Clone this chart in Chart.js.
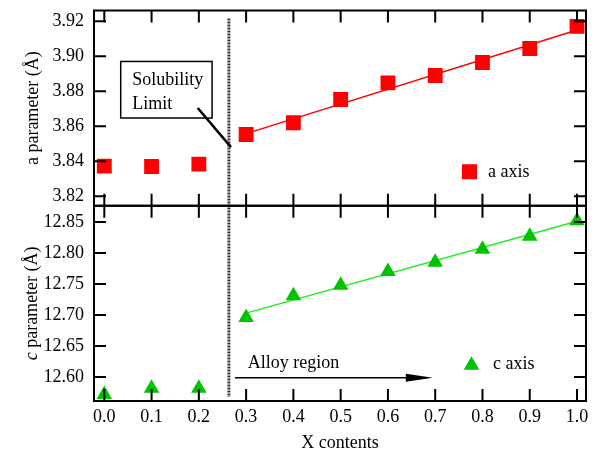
<!DOCTYPE html>
<html>
<head>
<meta charset="utf-8">
<script src="https://cdn.jsdelivr.net/npm/chart.js@4/dist/chart.umd.min.js"></script>
<style>
  html, body { margin: 0; padding: 0; background: #fff; }
  #wrap { width: 598px; height: 455px; }
</style>
</head>
<body>
<div id="wrap"><canvas id="latticeChart" width="598" height="455"></canvas></div>
<script>
// X content of each sample
const xContents = [0.0, 0.1, 0.2, 0.3, 0.4, 0.5, 0.6, 0.7, 0.8, 0.9, 1.0];
// lattice parameters (Å)
const aParam = [3.8372, 3.8370, 3.8384, 3.8553, 3.8620, 3.8753, 3.8848, 3.8890, 3.8964, 3.9044, 3.9170];
const cParam = [12.572, 12.582, 12.582, 12.696, 12.731, 12.748, 12.770, 12.785, 12.806, 12.827, 12.852];
// linear fits over the alloy region
const fitX = [0.3, 1.0];
const aFit = [3.8558, 3.9150];
const cFit = [12.703, 12.851];
const solubilityX = 0.2636;

const SERIF = "'Liberation Serif', 'Times New Roman', serif";
const RED = "#ff0000";
const GREEN = "#00c400";
const GREEN_LINE = "#1cf01c";

Chart.defaults.font.family = SERIF;
Chart.defaults.font.size = 18;
Chart.defaults.color = "#000";

const pts = (xs, ys) => xs.map((x, i) => ({ x: x, y: ys[i] }));

function drawTriangle(ctx, x, y, r) {
  ctx.beginPath();
  ctx.moveTo(x, y - r);
  ctx.lineTo(x + r * 0.866, y + r * 0.5);
  ctx.lineTo(x - r * 0.866, y + r * 0.5);
  ctx.closePath();
  ctx.fill();
}

// keep the plot box where it is in the figure: no extra room for label overhang
function fixBox(w, h) {
  return s => {
    if (w) s.width = w;
    if (h) s.height = h;
    s.paddingTop = 0;
    s.paddingBottom = 0;
    s.paddingLeft = 0;
    s.paddingRight = 0;
  };
}

// frame, inward ticks, annotations and legends
const decor = {
  id: "decor",
  afterDraw(chart) {
    const ctx = chart.ctx;
    const xs = chart.scales.x;
    const ya = chart.scales.yA;
    const yc = chart.scales.yC;
    const left = chart.chartArea.left;
    const right = chart.chartArea.right;
    const tick = 12;

    ctx.save();

    // dotted solubility line
    ctx.strokeStyle = "#3a3a3a";
    ctx.lineWidth = 3;
    ctx.setLineDash([2, 1]);
    const sx = xs.getPixelForValue(solubilityX);
    ctx.beginPath();
    ctx.moveTo(sx, ya.top + 8);
    ctx.lineTo(sx, yc.bottom - 4);
    ctx.stroke();
    ctx.setLineDash([]);

    // panels
    ctx.strokeStyle = "#000";
    ctx.lineWidth = 2;
    [ya, yc].forEach(s => {
      ctx.strokeRect(left, s.top, right - left, s.bottom - s.top);
      ctx.beginPath();
      s.ticks.forEach(t => {
        const py = s.getPixelForValue(t.value);
        ctx.moveTo(left, py); ctx.lineTo(left + tick, py);
        ctx.moveTo(right, py); ctx.lineTo(right - tick, py);
      });
      xs.ticks.forEach(t => {
        const px = xs.getPixelForValue(t.value);
        ctx.moveTo(px, s.top); ctx.lineTo(px, s.top + tick);
        ctx.moveTo(px, s.bottom); ctx.lineTo(px, s.bottom - tick);
      });
      ctx.stroke();
    });

    // Solubility Limit callout
    ctx.lineWidth = 1.5;
    const bx0 = xs.getPixelForValue(0.0347), bx1 = xs.getPixelForValue(0.228);
    const by0 = ya.getPixelForValue(3.897), by1 = ya.getPixelForValue(3.8647);
    ctx.fillStyle = "#fff";
    ctx.fillRect(bx0, by0, bx1 - bx0, by1 - by0);
    ctx.strokeRect(bx0, by0, bx1 - bx0, by1 - by0);
    ctx.fillStyle = "#000";
    ctx.font = "18px " + SERIF;
    ctx.textAlign = "left";
    ctx.textBaseline = "alphabetic";
    ctx.fillText("Solubility", xs.getPixelForValue(0.0592), ya.getPixelForValue(3.8833));
    ctx.fillText("Limit", xs.getPixelForValue(0.0592), ya.getPixelForValue(3.8700));
    ctx.lineWidth = 2.5;
    ctx.beginPath();
    ctx.moveTo(xs.getPixelForValue(0.1976), ya.getPixelForValue(3.8704));
    ctx.lineTo(xs.getPixelForValue(0.268), ya.getPixelForValue(3.8481));
    ctx.stroke();

    // Alloy region arrow
    ctx.fillText("Alloy region", xs.getPixelForValue(0.3034), yc.getPixelForValue(12.6145));
    const ay = yc.getPixelForValue(12.599);
    const ax0 = xs.getPixelForValue(0.2765), ax1 = xs.getPixelForValue(0.695);
    ctx.lineWidth = 1.5;
    ctx.beginPath();
    ctx.moveTo(ax0, ay); ctx.lineTo(ax1 - 20, ay);
    ctx.stroke();
    ctx.beginPath();
    ctx.moveTo(ax1, ay);
    ctx.lineTo(ax1 - 27, ay - 4);
    ctx.lineTo(ax1 - 27, ay + 4);
    ctx.closePath();
    ctx.fill();

    // legends
    ctx.fillStyle = RED;
    ctx.fillRect(right - 124, ya.bottom - 41.5, 15, 15);
    ctx.fillStyle = GREEN;
    drawTriangle(ctx, right - 114.5, yc.bottom - 35.75, 9);
    ctx.fillStyle = "#000";
    ctx.textBaseline = "middle";
    ctx.fillText("a axis", right - 98, ya.bottom - 33.5);
    ctx.fillText("c axis", right - 93, yc.bottom - 37);

    // c parameter title with italic c
    ctx.translate(32.5, (yc.top + yc.bottom) / 2);
    ctx.rotate(-Math.PI / 2);
    ctx.font = "italic 18px " + SERIF;
    const w1 = ctx.measureText("c").width;
    ctx.font = "18px " + SERIF;
    const w2 = ctx.measureText(" parameter (Å)").width;
    const start = -(w1 + w2) / 2;
    ctx.font = "italic 18px " + SERIF;
    ctx.fillText("c", start, 0);
    ctx.font = "18px " + SERIF;
    ctx.fillText(" parameter (Å)", start + w1, 0);

    ctx.restore();
  }
};

const tickFont = { family: SERIF, size: 18 };

new Chart(document.getElementById("latticeChart"), {
  type: "scatter",
  data: {
    datasets: [
      {
        label: "a axis",
        data: pts(xContents, aParam),
        yAxisID: "yA",
        pointStyle: "rect",
        pointRadius: 10.5,
        pointBorderWidth: 0,
        backgroundColor: RED,
        borderColor: RED,
        order: 0
      },
      {
        label: "a fit",
        data: pts(fitX, aFit),
        yAxisID: "yA",
        showLine: true,
        pointRadius: 0,
        borderColor: RED,
        borderWidth: 1.5,
        order: 1
      },
      {
        label: "c axis",
        data: pts(xContents, cParam),
        yAxisID: "yC",
        pointStyle: "triangle",
        pointRadius: 9,
        pointBorderWidth: 0,
        backgroundColor: GREEN,
        borderColor: GREEN,
        order: 0
      },
      {
        label: "c fit",
        data: pts(fitX, cFit),
        yAxisID: "yC",
        showLine: true,
        pointRadius: 0,
        borderColor: GREEN_LINE,
        borderWidth: 1.5,
        order: 1
      }
    ]
  },
  options: {
    responsive: false,
    animation: false,
    devicePixelRatio: 1,
    layout: { padding: { top: 10, right: 12, left: 0, bottom: 0 } },
    plugins: {
      legend: { display: false },
      tooltip: { enabled: false }
    },
    scales: {
      x: {
        type: "linear",
        min: -0.0218,
        max: 1.019,
        grid: { display: false, drawTicks: false },
        border: { display: false },
        ticks: {
          stepSize: 0.1,
          includeBounds: false,
          autoSkip: false,
          maxRotation: 0,
          padding: 5,
          color: "#000",
          font: tickFont,
          callback: v => v.toFixed(1)
        },
        title: {
          display: true,
          text: "X contents",
          color: "#000",
          font: tickFont,
          padding: { top: 0, bottom: 1 }
        },
        afterFit: fixBox(0, 54)
      },
      yC: {
        type: "linear",
        position: "left",
        stack: "panels",
        stackWeight: 1,
        weight: 1,
        min: 12.5614,
        max: 12.876,
        grid: { display: false, drawTicks: false },
        border: { display: false },
        ticks: {
          stepSize: 0.05,
          includeBounds: false,
          autoSkip: false,
          padding: 10,
          color: "#000",
          font: tickFont,
          callback: v => v.toFixed(2)
        },
        afterFit: fixBox(94, 0)
      },
      yA: {
        type: "linear",
        position: "left",
        stack: "panels",
        stackWeight: 1,
        weight: 2,
        min: 3.8146,
        max: 3.9261,
        grid: { display: false, drawTicks: false },
        border: { display: false },
        ticks: {
          stepSize: 0.02,
          includeBounds: false,
          autoSkip: false,
          padding: 10,
          color: "#000",
          font: tickFont,
          callback: v => v.toFixed(2)
        },
        title: {
          display: true,
          text: "a parameter (Å)",
          color: "#000",
          font: tickFont,
          padding: { top: 22, bottom: 0 }
        },
        afterFit: fixBox(94, 0)
      }
    }
  },
  plugins: [decor]
});
</script>
</body>
</html>
